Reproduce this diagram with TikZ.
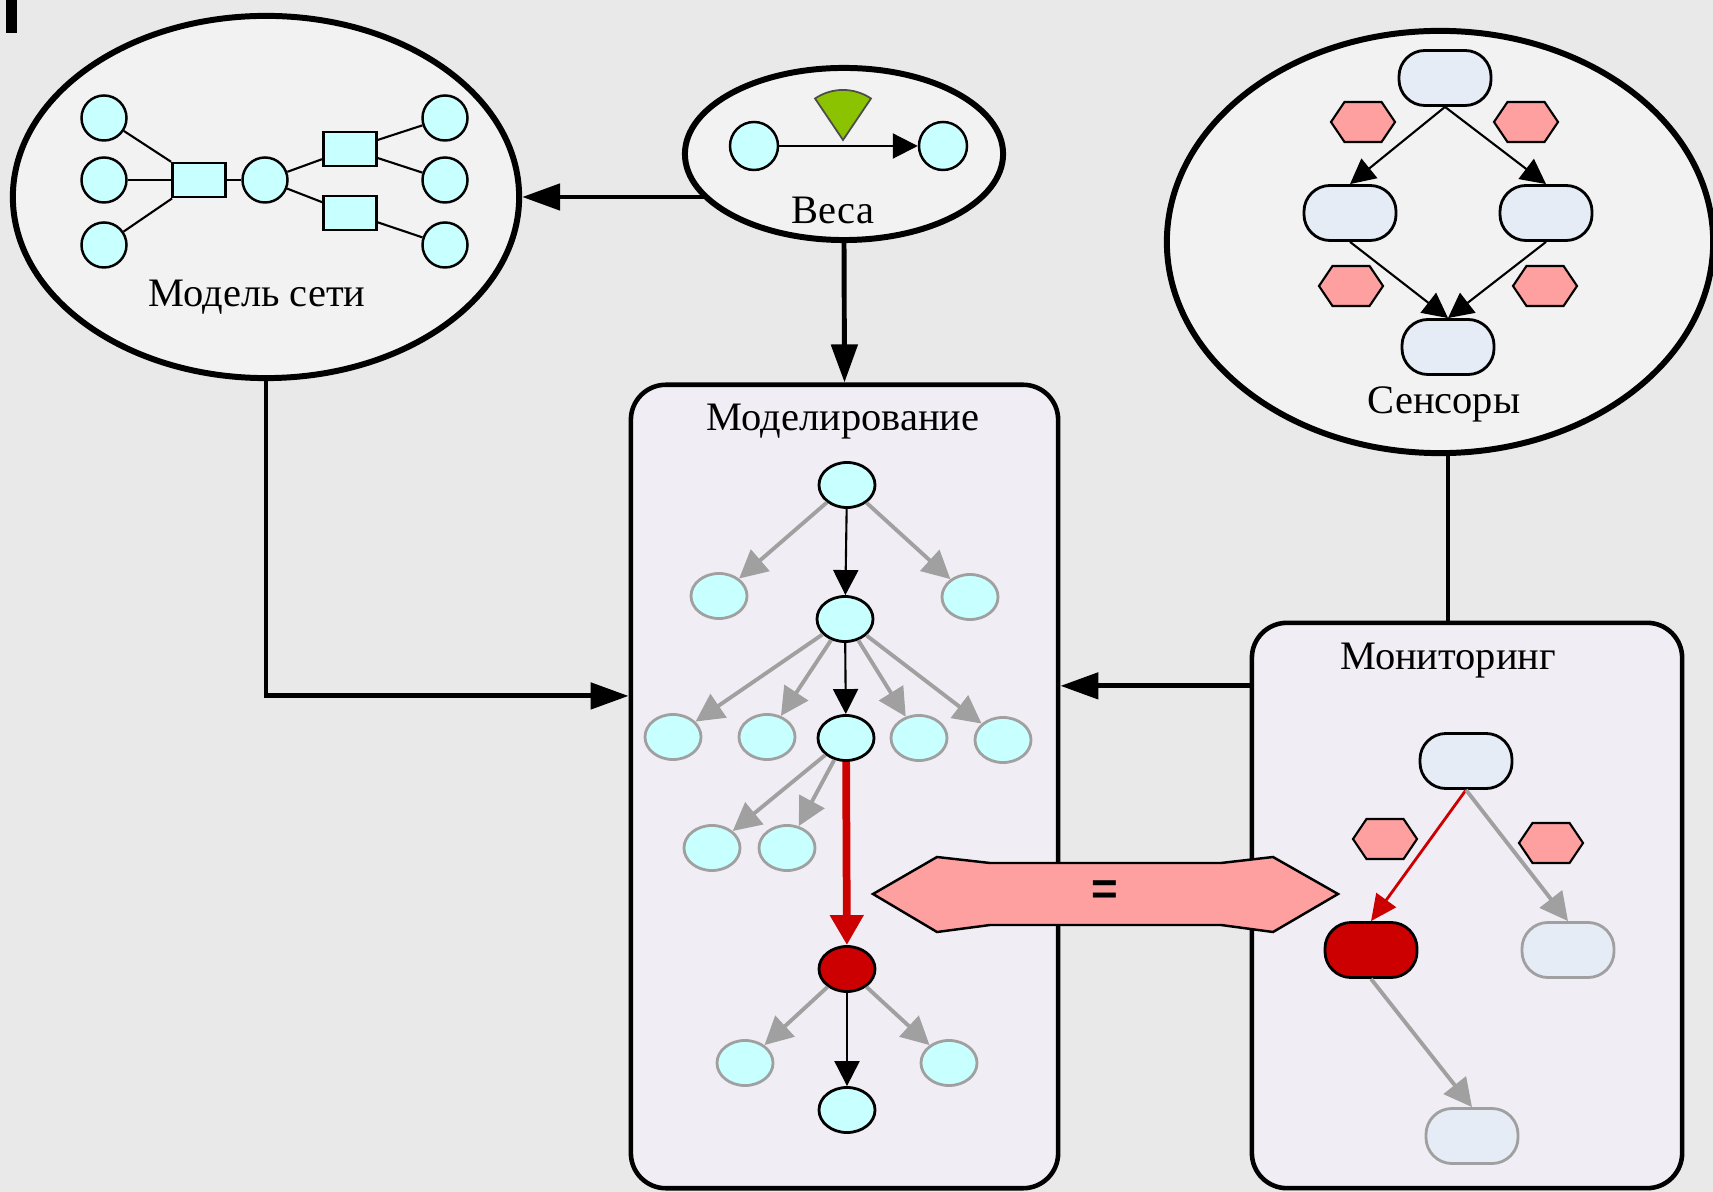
\documentclass[tikz,border=0pt]{standalone}
\usepackage{fontspec}
\setmainfont{Liberation Serif}
\newfontfamily\signfont{Liberation Sans}
\usepackage{tikz}
\usetikzlibrary{positioning, shapes.geometric, shapes.symbols, arrows.meta}

\definecolor{bggray}{RGB}{233,233,233}
\definecolor{ovalfill}{RGB}{242,242,242}
\definecolor{panelfill}{RGB}{240,238,244}
\definecolor{nodecyan}{RGB}{200,255,255}
\definecolor{stateblue}{RGB}{230,236,246}
\definecolor{hexpink}{RGB}{255,160,160}
\definecolor{darkred}{RGB}{204,0,0}
\definecolor{wedgegreen}{RGB}{140,195,0}
\definecolor{edgegray}{RGB}{160,160,160}

\tikzset{
  oval/.style={ellipse, draw, line width=1.7pt, fill=ovalfill, inner sep=0pt},
  panel/.style={draw, line width=1.3pt, rounded corners=0.35cm, fill=panelfill, inner sep=0pt},
  title/.style={font=\fontsize{11.5}{14}\selectfont, inner sep=0pt},
  ball/.style={circle, draw, line width=0.7pt, fill=nodecyan, minimum size=0.45cm, inner sep=0pt},
  bar/.style={draw, line width=0.8pt, fill=nodecyan, minimum width=0.53cm, minimum height=0.34cm, inner sep=0pt},
  tnode/.style={ellipse, draw, line width=0.8pt, fill=nodecyan, minimum width=0.56cm, minimum height=0.45cm, inner sep=0pt},
  tdim/.style={tnode, draw=edgegray},
  thot/.style={tnode, fill=darkred},
  state/.style={draw, line width=0.8pt, rounded corners=0.26cm, fill=stateblue, minimum width=0.92cm, minimum height=0.55cm, inner sep=0pt},
  sdim/.style={state, draw=edgegray},
  shot/.style={state, fill=darkred},
  hexa/.style={signal, signal to=west and east, signal pointer angle=112, draw, line width=0.6pt, fill=hexpink, minimum width=0.64cm, minimum height=0.40cm, inner sep=0pt},
  link/.style={line width=1.4pt, -{Triangle[length=0.38cm, width=0.26cm]}},
  wire/.style={line width=1.4pt},
  fine/.style={line width=0.6pt},
  darr/.style={line width=0.6pt, -{Triangle[length=0.25cm, width=0.25cm]}},
  garr/.style={draw=edgegray, line width=1.1pt, -{Triangle[length=0.28cm, width=0.28cm]}},
  rarr/.style={draw=darkred, line width=2.2pt, -{Triangle[length=0.3cm, width=0.32cm]}},
  rfine/.style={draw=darkred, line width=0.8pt, -{Triangle[length=0.26cm, width=0.24cm]}}
}

\begin{document}
\begin{tikzpicture}[x=0.01cm, y=-0.01cm]
    % Background
    \useasboundingbox (0,0) rectangle (1713,1192);
    \fill[bggray] (0,0) rectangle (1713,1192);
    \fill (6,0) rectangle (17,33);

    % Outer ellipses and panels
    \node[oval, minimum width=5.06cm, minimum height=3.62cm] (model) at (266,197) {};
    \node[oval, minimum width=3.18cm, minimum height=1.72cm] (vesa) at (844,154) {};
    \node[oval, minimum width=5.46cm, minimum height=4.22cm] (sens) at (1440,242) {};
    \node[panel, minimum width=4.27cm, minimum height=8.03cm] (sim) at (844.5,786.5) {};
    \node[panel, minimum width=4.30cm, minimum height=5.65cm] (mon) at (1467,905.5) {};

    % Titles
    \node[title] (modelT) at (257,297) {Модель сети};
    \node[title] (vesaT) at (833,210) {Веса};
    \node[title] (sensT) at (1444,404) {Сенсоры};
    \node[title] (simT) at (843,422) {Моделирование};
    \node[title] (monT) at (1448,661) {Мониторинг};

    % Network model
    \foreach \k/\y in {1/118, 2/180, 3/245} {
      \node[ball] (in\k) at (104,\y) {};
      \node[ball] (out\k) at (445,\y) {};
    }
    \node[bar] (hubL) at (199,180) {};
    \node[ball] (hubC) at (265,180) {};
    \node[bar] (hubU) at (350,149) {};
    \node[bar] (hubD) at (350,213) {};
    \foreach \a/\b in {in1/hubL, in2/hubL, in3/hubL, hubL/hubC, hubC/hubU, hubC/hubD, hubU/out1, hubU/out2, hubD/out3}
      \draw[fine] (\a) -- (\b);

    % Weights
    \node[ball, minimum size=0.48cm] (wa) at (754,146) {};
    \node[ball, minimum size=0.48cm] (wb) at (943,146) {};
    \draw[darr] (wa) -- (wb);
    \filldraw[fill=wedgegreen, draw=black!70, line width=0.5pt] (843,140) -- ++(56:0.5cm) arc[start angle=56, end angle=124, radius=0.5cm] -- cycle;

    % Sensors
    \node[state] (s1) at (1445,78) {};
    \node[state] (s2) at (1350,213) {};
    \node[state] (s3) at (1546,213) {};
    \node[state] (s4) at (1448,347) {};
    \foreach \n/\x/\y in {1/1363/122, 2/1526/122, 3/1351/286, 4/1545/286}
      \node[hexa] (sh\n) at (\x,\y) {};
    \draw[darr] (s1.south) -- (s2.north);
    \draw[darr] (s1.south) -- (s3.north);
    \draw[darr] (s2.south) -- (s4.north);
    \draw[darr] (s3.south) -- (s4.north);

    % Simulation tree
    \node[tnode] (t1) at (847,485) {};
    \node[tdim] (t1a) at (719,596) {};
    \node[tdim] (t1b) at (970,597) {};
    \node[tnode] (t2) at (845,619) {};
    \node[tdim] (t2a) at (673,737) {};
    \node[tdim] (t2b) at (767,737) {};
    \node[tnode] (t3) at (846,738) {};
    \node[tdim] (t2c) at (919,738) {};
    \node[tdim] (t2d) at (1003,740) {};
    \node[tdim] (t3a) at (712,848) {};
    \node[tdim] (t3b) at (787,848) {};
    \node[thot] (t4) at (847,969) {};
    \node[tdim] (t4a) at (745,1063) {};
    \node[tdim] (t4b) at (949,1063) {};
    \node[tnode] (t5) at (847,1110) {};
    \foreach \a/\b in {t1/t2, t2/t3, t4/t5}
      \draw[darr] (\a) -- (\b);
    \foreach \a/\b in {t1/t1a, t1/t1b, t2/t2a, t2/t2b, t2/t2c, t2/t2d, t3/t3a, t3/t3b, t4/t4a, t4/t4b}
      \draw[garr] (\a) -- (\b);
    \draw[rarr] (t3) -- (t4);

    % Monitoring
    \node[state] (m1) at (1466,761) {};
    \node[shot] (m2) at (1371,950) {};
    \node[sdim] (m3) at (1568,950) {};
    \node[sdim] (m4) at (1472,1136) {};
    \node[hexa] (mh1) at (1385,839) {};
    \node[hexa] (mh2) at (1551,843) {};
    \draw[rfine] (m1.south) -- (m2.north);
    \draw[garr] (m1.south) -- (m3.north);
    \draw[garr] (m2.south) -- (m4.north);

    % Connectors
    \draw[link] (model.east -| vesa.198) -- (model.east);
    \draw[link] (vesa.south) -- (sim.north);
    \draw[link] (model.south) |- ([yshift=0.905cm]sim.west);
    \draw[link] ([yshift=2.195cm]mon.west) -- ([yshift=2.195cm]mon.west -| sim.east);
    \draw[wire] ([xshift=0.08cm]sens.south) -- ([xshift=0.08cm]sens.south |- mon.north);

    % Equality arrow
    \filldraw[fill=hexpink, draw=black, line width=0.7pt] (873,894) -- (937,857) -- (990,863) -- (1221,863) -- (1273,857) -- (1338,894) -- (1273,932) -- (1221,925) -- (990,925) -- (937,932) -- cycle;
    \node[font=\signfont\bfseries\fontsize{13}{13}\selectfont] (eq) at (1105,893) {=};
\end{tikzpicture}
\end{document}
